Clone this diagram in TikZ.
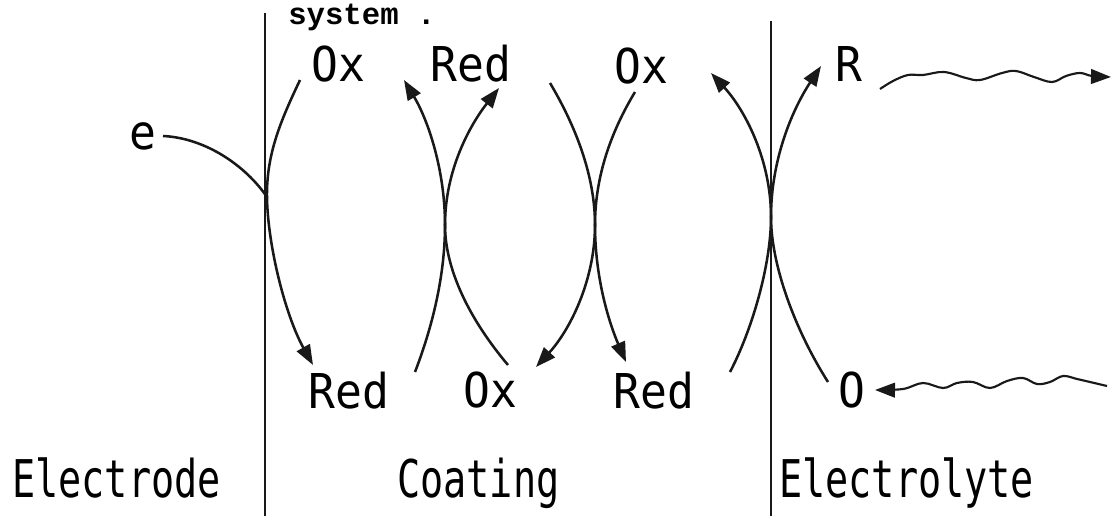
\documentclass[tikz,border=0pt]{standalone}
\usepackage{fontspec}
\setmainfont{DejaVu Sans Mono}
\newfontfamily\lblfont[FakeStretch=0.93]{DejaVu Sans Mono}
\newfontfamily\rowfont[FakeStretch=0.74]{DejaVu Sans Mono}
\newfontfamily\sysfont{Liberation Mono}
\usetikzlibrary{arrows.meta}
\begin{document}
\begin{tikzpicture}[x=0.75pt,y=-0.75pt,
  lbl/.style={inner sep=0pt,anchor=base west,font=\lblfont\fontsize{36}{40}\selectfont},
  rowlbl/.style={inner sep=0pt,anchor=base west,font=\rowfont\fontsize{39}{42}\selectfont},
  flow/.style={line width=1.9pt,draw=black!90},
  tip/.style={-{Triangle[length=15pt,width=11pt]}},
  wave/.style={line width=1.6pt,draw=black!90},
  wall/.style={line width=1.4pt,draw=black!90}]
\fill[white] (0,0) rectangle (1112,516);
\useasboundingbox (0,0) rectangle (1112,516);

% interfaces
\coordinate (L1) at (265,13);  \coordinate (L2) at (265,516);
\coordinate (R1) at (771,21);  \coordinate (R2) at (771,516);
\draw[wall] (L1) -- (L2);
\draw[wall] (R1) -- (R2);

% heading fragment
\node[inner sep=0pt,anchor=base west,font=\sysfont\bfseries\fontsize{23}{24}\selectfont] (sys) at (288,25) {system .};

% labels
\node[lbl] (oxA) at (311,82) {Ox};
\node[lbl] (redA) at (430,82) {Red};
\node[lbl] (oxB) at (614,84) {Ox};
\node[lbl] (rr) at (835,82) {R};
\node[lbl] (ee) at (129,150) {e};
\node[lbl] (redC) at (308,408) {Red};
\node[lbl] (oxC) at (463,407) {Ox};
\node[lbl] (redD) at (613,408) {Red};
\node[lbl] (oo) at (838,407) {O};
\node[rowlbl] (electrode) at (12,497) {Electrode};
\node[rowlbl] (coating) at (397,497) {Coating};
\node[rowlbl] (electrolyte) at (779,497) {Electrolyte};

% end points of connectors
\coordinate (es) at (163,136);
\coordinate (ej) at (267,197);
\coordinate (a1) at (300,80);   \coordinate (a2) at (313,365);
\coordinate (p1) at (445,225);  \coordinate (p2) at (595,225);  \coordinate (p3) at (771,217);
\coordinate (b1) at (415,372);  \coordinate (b2) at (404,80);
\coordinate (c1) at (508,365);  \coordinate (c2) at (499,88);
\coordinate (d1) at (550,83);   \coordinate (d2) at (536,367);
\coordinate (f1) at (635,92);   \coordinate (f2) at (626,362);
\coordinate (g1) at (730,372);  \coordinate (g2) at (711,73);
\coordinate (h1) at (828,382);  \coordinate (h2) at (821,66);

% electron
\draw[flow] (es) .. controls (205,138) and (245,165) .. (ej);
% electrode reaction
\draw[flow,tip] (a1) .. controls (282,118) and (268,150) .. (267,190)
   .. controls (266,240) and (285,315) .. (a2);
% coating pair 1
\draw[flow,tip] (b1) .. controls (435,320) and (445,270) .. (p1)
   .. controls (445,170) and (428,120) .. (b2);
\draw[flow,tip] (c1) .. controls (470,320) and (445,270) .. (p1)
   .. controls (445,170) and (470,125) .. (c2);
% coating pair 2
\draw[flow,tip] (d1) .. controls (575,125) and (595,175) .. (p2)
   .. controls (595,280) and (570,330) .. (d2);
\draw[flow,tip] (f1) .. controls (612,130) and (595,175) .. (p2)
   .. controls (595,280) and (610,325) .. (f2);
% coating / electrolyte interface
\draw[flow,tip] (g1) .. controls (752,330) and (771,265) .. (p3)
   .. controls (771,160) and (745,110) .. (g2);
\draw[flow,tip] (h1) .. controls (795,330) and (771,265) .. (p3)
   .. controls (771,160) and (792,110) .. (h2);

% wavy transport lines
\draw[wave,tip] plot[smooth,tension=0.6] coordinates
  {(880,89) (893,81) (908,75) (923,75) (944,72) (966,78) (980,80) (1002,73) (1016,71) (1034,77) (1052,82) (1066,76) (1080,73) (1092,76) (1111,77)};
\draw[wave,tip] plot[smooth,tension=0.6] coordinates
  {(1107,386) (1090,382) (1077,379) (1063,376) (1050,382) (1037,384) (1023,378) (1007,381) (990,388) (973,382) (957,383) (943,388) (923,383) (903,389) (875,390)};
\end{tikzpicture}
\end{document}
